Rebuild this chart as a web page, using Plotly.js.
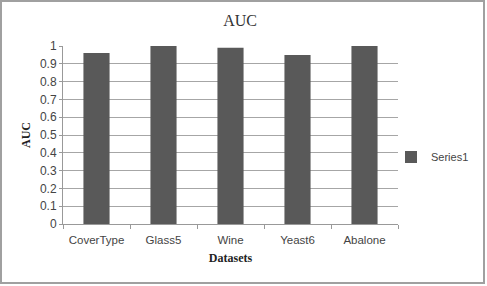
<!DOCTYPE html>
<html><head><meta charset="utf-8">
<script src="https://cdn.plot.ly/plotly-3.0.1.min.js"></script>
<style>html,body{margin:0;padding:0;background:#fff}#c{width:487px;height:286px}</style>
</head><body><div id="c"></div>
<script>
const categories = ["CoverType", "Glass5", "Wine", "Yeast6", "Abalone"];
const auc = [0.96, 1.0, 0.99, 0.95, 1.0];
const yTicks = [0, 0.1, 0.2, 0.3, 0.4, 0.5, 0.6, 0.7, 0.8, 0.9, 1];
const yTickText = ["0", "0.1", "0.2", "0.3", "0.4", "0.5", "0.6", "0.7", "0.8", "0.9", "1"];

const trace = {
  type: "bar", x: categories, y: auc, name: "Series1",
  marker: {color: "#595959"}
};
const pw = 487 - 63 - 89, ph = 286 - 46 - 62;
const layout = {
  width: 487, height: 286,
  margin: {l: 63, r: 89, t: 46, b: 62, autoexpand: false},
  paper_bgcolor: "#fff", plot_bgcolor: "#fff",
  bargap: 0.61,
  showlegend: true,
  title: {text: "AUC", font: {family: "Liberation Serif, Times New Roman, serif", size: 16, color: "#333"}, x: 0.493, xanchor: "center", y: 0.93, yanchor: "middle"},
  xaxis: {
    type: "category", tickson: "boundaries", ticks: "outside", ticklen: 4, tickcolor: "#999",
    showline: true, linecolor: "#999", linewidth: 1, ticklabelstandoff: 5, tickangle: 0,
    tickfont: {family: "Liberation Sans, Arial, sans-serif", size: 11.5, color: "#444"},
    title: {text: "<b>Datasets</b>", font: {family: "Liberation Serif, Times New Roman, serif", size: 12, color: "#222"}, standoff: 8}
  },
  yaxis: {
    range: [0, 1], tickvals: yTicks, ticktext: yTickText,
    ticks: "outside", ticklen: 3, tickcolor: "#999",
    showline: true, linecolor: "#999", linewidth: 1,
    showgrid: true, gridcolor: "#a6a6a6", gridwidth: 1, zeroline: false,
    tickfont: {family: "Liberation Sans, Arial, sans-serif", size: 12, color: "#444"},
    title: {text: "<b>AUC</b>", font: {family: "Liberation Serif, Times New Roman, serif", size: 12, color: "#222"}, standoff: 6}
  },
  legend: {x: (391 - 63) / pw, xanchor: "left", y: (224 - 157) / ph, yanchor: "middle", bgcolor: "rgba(0,0,0,0)", font: {family: "Liberation Sans, Arial, sans-serif", size: 11, color: "#444"}, itemwidth: 30, tracegroupgap: 0},
  shapes: [{type: "rect", xref: "paper", yref: "paper",
    x0: (1 - 63) / pw, x1: (484 - 63) / pw, y0: (224 - 283) / ph, y1: (224 - 1) / ph,
    line: {color: "#a0a0a0", width: 2}}]
};
Plotly.newPlot("c", [trace], layout, {displayModeBar: false, staticPlot: true});
</script></body></html>
